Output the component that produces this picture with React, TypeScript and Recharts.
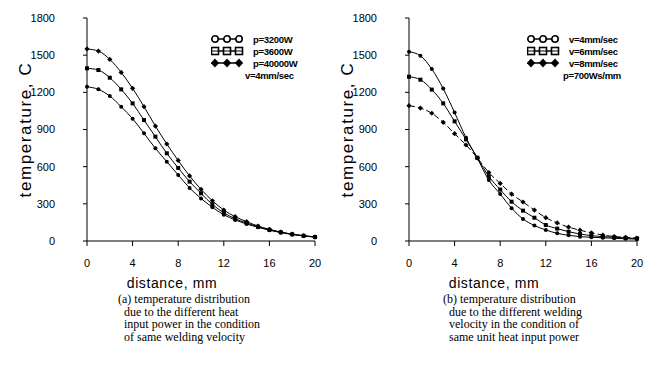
import React from "react";
import { LineChart, Line, XAxis, YAxis, Legend } from "recharts";

const distance = [0, 1, 2, 3, 4, 5, 6, 7, 8, 9, 10, 11, 12, 13, 14, 15, 16, 17, 18, 19, 20];

// (a) different heat input power, v = 4 mm/sec
const p3200 = [1245, 1224, 1170, 1084, 987, 869, 748, 640, 533, 428, 344, 272, 212, 170, 137, 110, 87, 68, 52, 41, 31];
const p3600 = [1394, 1380, 1318, 1224, 1111, 976, 842, 708, 590, 479, 385, 295, 228, 180, 145, 115, 90, 70, 54, 42, 32];
const p40000 = [1550, 1533, 1466, 1361, 1232, 1084, 928, 783, 650, 525, 417, 325, 250, 196, 156, 121, 94, 72, 55, 43, 33];

// (b) different welding velocity, p = 700 Ws/mm
const v4 = [1528, 1495, 1388, 1230, 1037, 834, 667, 492, 379, 265, 178, 125, 89, 62, 46, 35, 30, 26, 22, 18, 15];
const v6 = [1326, 1302, 1222, 1111, 966, 820, 672, 522, 415, 317, 245, 188, 129, 100, 75, 56, 43, 35, 30, 25, 20];
const v8 = [1092, 1073, 1031, 958, 866, 775, 670, 553, 465, 379, 315, 250, 188, 146, 112, 87, 66, 48, 36, 30, 24];

const xTicks = [0, 4, 8, 12, 16, 20];
const yTicks = [0, 300, 600, 900, 1200, 1500, 1800];

const legendA = ["p=3200W", "p=3600W", "p=40000W"];
const noteA = "v=4mm/sec";
const legendB = ["v=4mm/sec", "v=6mm/sec", "v=8mm/sec"];
const noteB = "p=700Ws/mm";

const captionA = [
  "(a) temperature distribution",
  "  due to the different heat",
  "  input power in the condition",
  "  of same welding velocity",
];
const captionB = [
  "(b) temperature distribution",
  "  due to the different welding",
  "  velocity in the condition of",
  "  same unit heat input power",
];

const dataA = distance.map((d, i) => ({ d, s1: p3200[i], s2: p3600[i], s3: p40000[i] }));
const dataB = distance.map((d, i) => ({ d, s1: v4[i], s2: v6[i], s3: v8[i] }));

type Shape = "circle" | "square" | "diamond";

const makeDot = (shape: Shape) => (props: any) => {
  const { cx, cy, index } = props;
  if (cx == null || cy == null) return <g key={`e${index}`} />;
  if (shape === "circle") return <circle key={`c${index}`} cx={cx} cy={cy} r={2} fill="#000" />;
  if (shape === "square")
    return <rect key={`s${index}`} x={cx - 2} y={cy - 2} width={4} height={4} fill="#000" />;
  return (
    <path
      key={`d${index}`}
      d={`M${cx},${cy - 2.6}L${cx + 2.6},${cy}L${cx},${cy + 2.6}L${cx - 2.6},${cy}Z`}
      fill="#000"
    />
  );
};

const LegendMarkers = ({ shape }: { shape: Shape }) => {
  const xs = [4, 16, 28];
  return (
    <svg width={33} height={10} style={{ display: "block" }}>
      <line x1={4} y1={5} x2={28} y2={5} stroke="#000" strokeWidth={1.5} />
      {xs.map((x, i) => {
        if (shape === "circle")
          return <circle key={i} cx={x} cy={5} r={3.2} fill="#fff" stroke="#000" strokeWidth={1.6} />;
        if (shape === "square")
          return (
            <g key={i}>
              <rect x={x - 3.5} y={1.5} width={7} height={7} fill="#fff" stroke="#000" strokeWidth={1.6} />
              <line x1={x - 3.5} y1={5} x2={x + 3.5} y2={5} stroke="#000" strokeWidth={1} />
            </g>
          );
        return <path key={i} d={`M${x},0.5L${x + 4.2},5L${x},9.5L${x - 4.2},5Z`} fill="#000" />;
      })}
    </svg>
  );
};

const shapes: Shape[] = ["circle", "square", "diamond"];

const makeLegend = (labels: string[], note: string, noteIndent: number) => () => (
  <div style={{ height: 0, width: 0, overflow: "visible" }}>
    <div style={{ fontFamily: "Liberation Sans, Arial, sans-serif", fontSize: 9.5, fontWeight: 700, color: "#000", width: 115 }}>
      {labels.map((l, i) => (
        <div key={l} style={{ display: "flex", alignItems: "center", height: 12, whiteSpace: "nowrap" }}>
          <LegendMarkers shape={shapes[i]} />
          <span style={{ marginLeft: 9, letterSpacing: -0.3 }}>{l}</span>
        </div>
      ))}
      <div style={{ height: 13, lineHeight: "13px", marginLeft: noteIndent, whiteSpace: "nowrap", letterSpacing: -0.3 }}>
        {note}
      </div>
    </div>
  </div>
);

const tickFont = { fontFamily: "Liberation Sans, Arial, sans-serif", fontSize: 11, fill: "#000" };

const YLabel = (props: any) => {
  const vb = props.viewBox || { x: 0, y: 18, width: 87, height: 223 };
  const cx = 25;
  const cy = vb.y + vb.height / 2;
  return (
    <text
      x={cx}
      y={cy}
      transform={`rotate(-90, ${cx}, ${cy})`}
      textAnchor="middle"
      dominantBaseline="central"
      fontFamily="Liberation Sans, Arial, sans-serif"
      fontSize={17}
      letterSpacing={1.6}
      fill="#000"
    >
      temperature, C
    </text>
  );
};

const XLabel = (props: any) => {
  const vb = props.viewBox || { x: 87, y: 241, width: 228, height: 59 };
  const cx = vb.x + vb.width / 2 - 29;
  return (
    <text
      x={cx}
      y={vb.y + 47}
      textAnchor="middle"
      fontFamily="Liberation Sans, Arial, sans-serif"
      fontSize={14}
      letterSpacing={0.6}
      fill="#000"
    >
      distance,  mm
    </text>
  );
};

const Panel = ({
  data,
  legend,
  note,
  noteIndent,
  legendLeft,
  dashedThird,
}: {
  data: any[];
  legend: string[];
  note: string;
  noteIndent: number;
  legendLeft: number;
  dashedThird: boolean;
}) => (
  <LineChart width={323} height={300} data={data} margin={{ top: 18, right: 8, bottom: 0, left: 0 }}>
    <XAxis
      dataKey="d"
      type="number"
      domain={[0, 20]}
      ticks={xTicks}
      tick={tickFont}
      tickSize={5}
      tickMargin={13}
      height={59}
      stroke="#000"
      label={<XLabel />}
    />
    <XAxis xAxisId="top" orientation="top" dataKey="d" type="number" domain={[0, 20]} tick={false} tickLine={false} height={0} stroke="#555" />
    <YAxis
      type="number"
      domain={[0, 1800]}
      ticks={yTicks}
      tick={tickFont}
      tickSize={4}
      tickMargin={28}
      width={87}
      stroke="#000"
      label={<YLabel />}
    />
    <YAxis yAxisId="right" orientation="right" type="number" domain={[0, 1800]} tick={false} tickLine={false} width={0} stroke="#000" />
    <Legend
      content={makeLegend(legend, note, noteIndent)}
      verticalAlign="top"
      wrapperStyle={{ position: "absolute", left: legendLeft, top: 33, width: 0, height: 0 }}
    />
    <Line dataKey="s1" stroke="#000" strokeWidth={1} dot={makeDot("circle")} isAnimationActive={false} type="monotone" />
    <Line dataKey="s2" stroke="#000" strokeWidth={1} dot={makeDot("square")} isAnimationActive={false} type="monotone" />
    <Line
      dataKey="s3"
      stroke="#000"
      strokeWidth={1}
      strokeDasharray={dashedThird ? "6 3" : undefined}
      dot={makeDot("diamond")}
      isAnimationActive={false}
      type="monotone"
    />
  </LineChart>
);

const Caption = ({ lines, left }: { lines: string[]; left: number }) => (
  <div
    style={{
      position: "absolute",
      left,
      top: 293,
      fontFamily: "Liberation Serif, Times New Roman, serif",
      fontSize: 12,
      lineHeight: "12.5px",
      color: "#000",
      whiteSpace: "pre",
    }}
  >
    {lines.map((l) => (
      <div key={l}>{l}</div>
    ))}
  </div>
);

export default function App() {
  return (
    <div style={{ position: "absolute", left: 0, top: 0, width: 646, height: 365, background: "#fff", overflow: "hidden" }}>
      <div style={{ position: "absolute", left: 0, top: 0 }}>
        <Panel data={dataA} legend={legendA} note={noteA} noteIndent={34} legendLeft={211} dashedThird={false} />
      </div>
      <div style={{ position: "absolute", left: 322, top: 0 }}>
        <Panel data={dataB} legend={legendB} note={noteB} noteIndent={36} legendLeft={205} dashedThird={true} />
      </div>
      <Caption lines={captionA} left={118} />
      <Caption lines={captionB} left={443} />
    </div>
  );
}
